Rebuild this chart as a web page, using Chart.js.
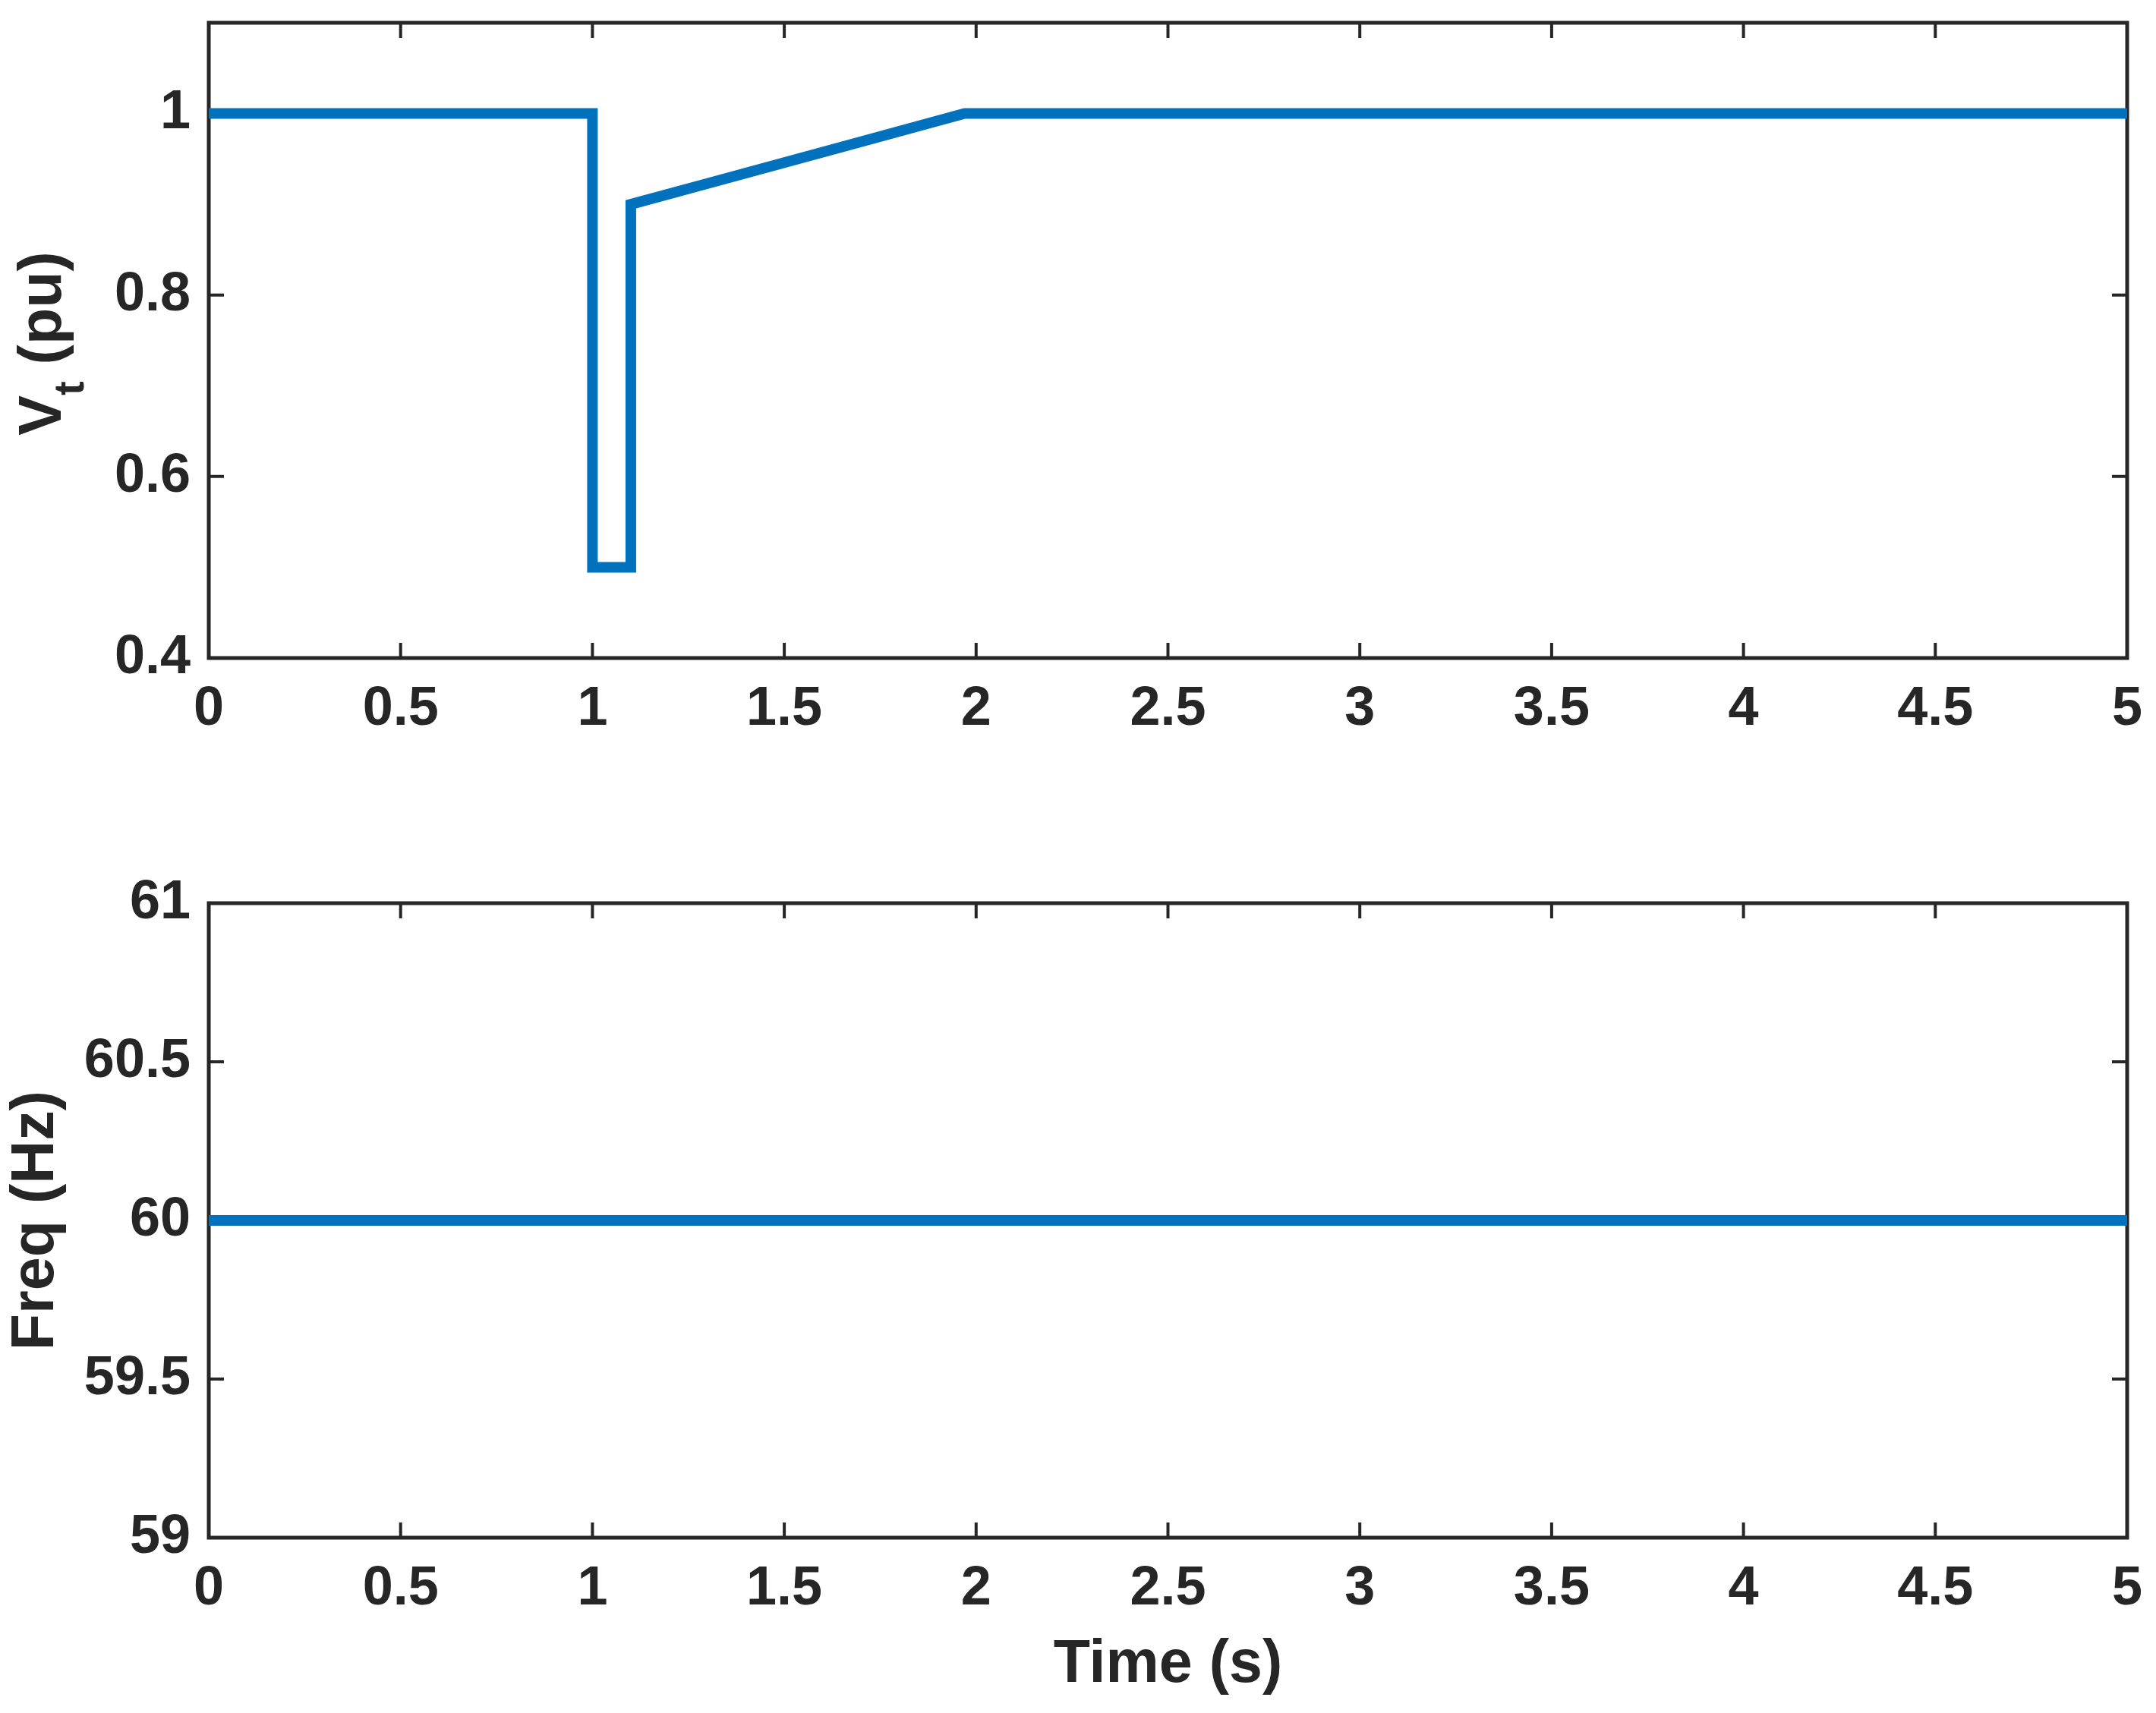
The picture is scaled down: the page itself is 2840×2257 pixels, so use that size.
<!DOCTYPE html>
<html>
<head>
<meta charset="utf-8">
<script src="https://cdn.jsdelivr.net/npm/chart.js@4.4.0/dist/chart.umd.min.js"></script>
<style>
  html, body { margin: 0; padding: 0; background: #fff; }
  #wrap { position: relative; width: 2840px; height: 2257px; }
  #wrap canvas { position: absolute; left: 0; }
</style>
</head>
<body>
<div id="wrap">
  <canvas id="vtChart" width="2840" height="1000" style="top:0"></canvas>
  <canvas id="freqChart" width="2840" height="1157" style="top:1100px"></canvas>
</div>
<script>
// Values
const vtTime = [0, 1.0, 1.0, 1.1, 1.1, 1.3, 1.5, 1.7, 1.97, 5];
const vtValues = [1, 1, 0.5, 0.5, 0.9, 0.923, 0.946, 0.969, 1.0, 1.0];
const freqTime = [0, 5];
const freqValues = [60, 60];

const timeTicks = [0, 0.5, 1, 1.5, 2, 2.5, 3, 3.5, 4, 4.5, 5];
const vtTicks = [0.4, 0.6, 0.8, 1];
const freqTicks = [59, 59.5, 60, 60.5, 61];

const axisColor = '#262626';
const lineBlue = '#0072BD';
const fontFamily = '"Liberation Sans", Arial, Helvetica, sans-serif';

Chart.defaults.font.family = fontFamily;
Chart.defaults.font.weight = 'bold';
Chart.defaults.color = axisColor;

// MATLAB style box with ticks pointing inwards on all four sides
const boxAxes = {
  id: 'boxAxes',
  beforeDatasetsDraw(chart) {
    const { ctx, chartArea: a, scales: { x, y } } = chart;
    const len = 20;
    ctx.save();
    ctx.strokeStyle = axisColor;
    ctx.lineWidth = 4;
    ctx.beginPath();
    x.ticks.forEach(t => {
      const px = x.getPixelForValue(t.value);
      ctx.moveTo(px, a.bottom); ctx.lineTo(px, a.bottom - len);
      ctx.moveTo(px, a.top); ctx.lineTo(px, a.top + len);
    });
    y.ticks.forEach(t => {
      const py = y.getPixelForValue(t.value);
      ctx.moveTo(a.left, py); ctx.lineTo(a.left + len, py);
      ctx.moveTo(a.right, py); ctx.lineTo(a.right - len, py);
    });
    ctx.stroke();
    ctx.lineWidth = 5;
    ctx.strokeRect(a.left, a.top, a.right - a.left, a.bottom - a.top);
    ctx.restore();
  }
};

// y label with a subscript: V_t (pu)
const vtTitle = {
  id: 'vtTitle',
  afterDraw(chart) {
    const { ctx, chartArea: a } = chart;
    const big = 'bold 79px ' + fontFamily;
    const small = 'bold 56px ' + fontFamily;
    ctx.save();
    ctx.font = big;
    const wV = ctx.measureText('V').width;
    const wRest = ctx.measureText(' (pu)').width;
    ctx.font = small;
    const wT = ctx.measureText('t').width;
    const total = wV + wT + wRest;
    ctx.translate(80, (a.top + a.bottom) / 2 + 4);
    ctx.rotate(-Math.PI / 2);
    ctx.fillStyle = axisColor;
    ctx.textBaseline = 'alphabetic';
    ctx.textAlign = 'left';
    let xPos = -total / 2;
    ctx.font = big;
    ctx.fillText('V', xPos, 0);
    xPos += wV;
    ctx.font = small;
    ctx.fillText('t', xPos, 30);
    xPos += wT;
    ctx.font = big;
    ctx.fillText(' (pu)', xPos, 0);
    ctx.restore();
  }
};

function makeChart(id, times, values, yMin, yMax, yTicks, opts) {
  const points = times.map((t, i) => ({ x: t, y: values[i] }));
  return new Chart(document.getElementById(id), {
    type: 'line',
    data: {
      datasets: [{
        data: points,
        borderColor: lineBlue,
        borderWidth: 14,
        pointRadius: 0,
        tension: 0,
        fill: false,
        borderJoinStyle: 'miter',
        borderCapStyle: 'butt'
      }]
    },
    options: {
      responsive: false,
      animation: false,
      events: [],
      layout: { padding: { top: opts.padTop, right: 38, left: 0, bottom: 0 } },
      plugins: { legend: { display: false }, tooltip: { enabled: false } },
      scales: {
        x: {
          type: 'linear',
          min: 0,
          max: 5,
          grid: { display: false, drawTicks: false },
          border: { display: false },
          ticks: {
            padding: 25,
            font: { size: 72, weight: 'bold' },
            color: axisColor,
            callback: v => String(v)
          },
          title: opts.xTitle ? {
            display: true,
            text: opts.xTitle,
            font: { size: 79, weight: 'bold' },
            color: axisColor,
            padding: { top: 0, bottom: 15 }
          } : { display: false },
          afterBuildTicks: s => { s.ticks = timeTicks.map(v => ({ value: v })); },
          afterFit: s => { s.height = opts.xHeight; s.paddingLeft = 0; s.paddingRight = 0; }
        },
        y: {
          type: 'linear',
          min: yMin,
          max: yMax,
          grid: { display: false, drawTicks: false },
          border: { display: false },
          ticks: {
            padding: 24,
            font: { size: 72, weight: 'bold' },
            color: axisColor,
            callback: v => String(v)
          },
          title: opts.yTitle ? {
            display: true,
            text: opts.yTitle,
            font: { size: 79, weight: 'bold' },
            color: axisColor,
            padding: { top: 1, bottom: 0 }
          } : { display: false },
          afterBuildTicks: s => { s.ticks = yTicks.map(v => ({ value: v })); },
          afterFit: s => { s.width = 275; s.paddingTop = 0; s.paddingBottom = 0; }
        }
      }
    },
    plugins: opts.plugins
  });
}

makeChart('vtChart', vtTime, vtValues, 0.4, 1.1, vtTicks, {
  padTop: 30, xHeight: 133, plugins: [boxAxes, vtTitle]
});

makeChart('freqChart', freqTime, freqValues, 59, 61, freqTicks, {
  padTop: 90, xHeight: 231, xTitle: 'Time (s)', yTitle: 'Freq (Hz)', plugins: [boxAxes]
});
</script>
</body>
</html>
